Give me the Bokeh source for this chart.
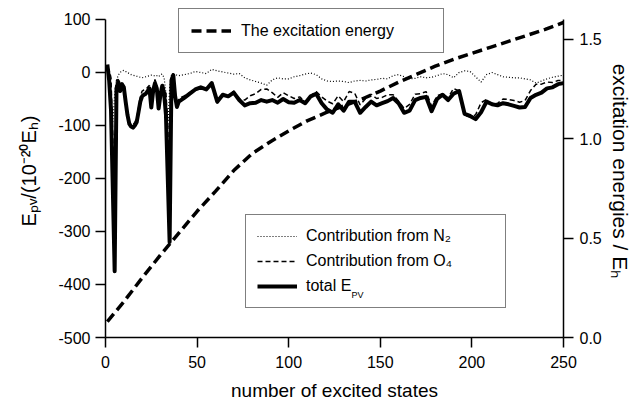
from bokeh.plotting import figure
from bokeh.models import Range1d, LinearAxis, FixedTicker, Legend, LegendItem, Label
from bokeh.embed import file_html
from bokeh.resources import INLINE

# ---------------- data ----------------
states = list(range(1, 40)) + list(range(40, 251, 3))

total_epv = [15, -15, -70, -220, -375, -30, -18, -35, -22, -28,
             -55, -80, -97, -102, -104, -100, -94, -75, -55, -45,
             -42, -40, -35, -30, -66, -35, -20, -30, -68, -42,
             -25, -40, -80, -200, -320, -15, -5, -45, -65,
             -55, -48, -40, -32, -28, -32, -20, -55, -42, -45,
             -38, -52, -62, -58, -57, -52, -55, -52, -57, -50,
             -56, -57, -52, -58, -45, -40, -58, -70, -76, -60,
             -72, -55, -55, -76, -65, -55, -62, -58, -54, -48,
             -58, -76, -72, -52, -48, -46, -73, -50, -42, -52,
             -40, -35, -78, -82, -88, -75, -55, -60, -62, -58,
             -60, -63, -66, -65, -48, -42, -38, -30, -28, -22,
             -20]

contrib_n2 = [5, -20, -60, -95, -40, -15, -5, 0, 3, 4,
              2, 0, -2, -4, -5, -6, -7, -8, -9, -10,
              -9, -8, -7, -6, -5, -5, -7, -6, -8, -4,
              -3, -10, -40, -105, -30, -5, -4, -3, -5,
              -6, -4, -2, 2, 0, -2, 6, 3, 1, -1,
              -3, -2, -10, -14, -17, -20, -24, -14, -10, -12,
              -12, -8, -6, -3, -1, -4, -12, -16, -17, -16,
              -17, -19, -16, -15, -16, -14, -13, -11, -12, -6,
              -4, -8, -12, -11, -8, -10, -9, -6, -2, -4,
              -10, 0, 3, 2, -8, -18, -4, 0, -4, -8,
              -9, -10, -10, -12, -14, -20, -16, -12, -9, -7,
              -5]

contrib_o4 = [10, 5, -10, -125, -335, -15, -13, -35, -25, -32,
              -57, -80, -95, -98, -99, -94, -87, -67, -46, -35,
              -33, -32, -28, -24, -61, -30, -13, -24, -60, -38,
              -22, -30, -40, -95, -290, -10, -1, -42, -60,
              -49, -44, -38, -34, -28, -30, -26, -58, -43, -44,
              -35, -50, -52, -44, -40, -32, -31, -38, -47, -38,
              -44, -49, -46, -55, -44, -36, -46, -54, -59, -44,
              -55, -36, -39, -61, -49, -41, -49, -47, -42, -42,
              -54, -68, -60, -41, -40, -36, -64, -44, -40, -48,
              -30, -35, -81, -84, -80, -57, -51, -60, -58, -50,
              -51, -53, -56, -53, -34, -22, -22, -18, -19, -15,
              -15]

exc_states = [1, 10, 20, 30, 40, 50, 60, 70, 80, 90, 100, 110, 120, 130,
              140, 150, 160, 170, 180, 190, 200, 210, 220, 230, 240, 250]
exc_energy = [0.08, 0.18, 0.30, 0.415, 0.525, 0.635, 0.735, 0.84, 0.925, 0.985,
              1.04, 1.09, 1.13, 1.165, 1.20, 1.24, 1.285, 1.325, 1.365, 1.40,
              1.43, 1.46, 1.49, 1.52, 1.55, 1.585]

x_ticks = [0, 50, 100, 150, 200, 250]
x_tick_labels = ["0", "50", "100", "150", "200", "250"]
y_ticks = [-500, -400, -300, -200, -100, 0, 100]
y_tick_labels = ["-500", "-400", "-300", "-200", "-100", "0", "100"]
r_ticks = [0, 0.5, 1.0, 1.5]
r_tick_labels = ["0.0", "0.5", "1.0", "1.5"]

x_title = "number of excited states"
y_title = "E\u209a\u1d65/(10\u207b\u00b2\u2070E\u2095)"
r_title = "excitation energies / E\u2095"
legend_labels = ["The excitation energy", "Contribution from N\u2082",
                 "Contribution from O\u2084", "total E"]
legend_sub = "PV"

FONT = "Liberation Sans"

# ---------------- figure ----------------
# head-room above 100 / 1.6 so that the upper legend box is not clipped
p = figure(width=635, height=404, x_range=Range1d(0, 250), y_range=Range1d(-500, 128.3),
           output_backend="svg", toolbar_location=None,
           min_border_left=105, min_border_right=72, min_border_top=4, min_border_bottom=67)
p.xgrid.visible = False
p.ygrid.visible = False
p.outline_line_color = None
p.background_fill_color = "white"
p.border_fill_color = "white"
p.extra_y_ranges = {"exc": Range1d(0, 1.6755)}

right_axis = LinearAxis(y_range_name="exc")
p.add_layout(right_axis, "right")

p.xaxis.ticker = FixedTicker(ticks=x_ticks)
p.xaxis.major_label_overrides = dict(zip(x_ticks, x_tick_labels))
p.yaxis.ticker = FixedTicker(ticks=y_ticks)
p.yaxis.major_label_overrides = dict(zip(y_ticks, y_tick_labels))
p.yaxis.bounds = (y_ticks[0], y_ticks[-1])
right_axis.ticker = FixedTicker(ticks=r_ticks)
right_axis.major_label_overrides = dict(zip(r_ticks, r_tick_labels))
right_axis.bounds = (0, 1.6)

p.xaxis.axis_label = x_title
p.yaxis.axis_label = y_title
right_axis.axis_label = r_title

for ax, standoff, title_size, title_standoff in ((p.xaxis[0], 8, "19px", 9),
                                                 (p.yaxis[0], 5, "20px", 15),
                                                 (right_axis, 6, "21px", 4)):
    ax.axis_line_color = "black"
    ax.axis_line_width = 1.5
    ax.major_tick_line_color = "black"
    ax.major_tick_line_width = 1.5
    ax.major_tick_out = 10
    ax.major_tick_in = 0
    ax.minor_tick_line_color = None
    ax.major_label_text_font = FONT
    ax.major_label_text_font_size = "16px"
    ax.major_label_text_color = "black"
    ax.major_label_standoff = standoff
    ax.axis_label_text_font = FONT
    ax.axis_label_text_font_size = title_size
    ax.axis_label_text_font_style = "normal"
    ax.axis_label_text_color = "black"
    ax.axis_label_standoff = title_standoff

r_n2 = p.line(states, contrib_n2, line_color="black", line_width=1.2, line_dash="1 2")
r_o4 = p.line(states, contrib_o4, line_color="black", line_width=1.5, line_dash="5 3")
r_tot = p.line(states, total_epv, line_color="black", line_width=4, line_join="round")
r_exc = p.line(exc_states, exc_energy, y_range_name="exc", line_color="black",
               line_width=3.5, line_dash="10 5")

common = dict(margin=0, border_line_color="black", border_line_width=1.2,
              label_text_font=FONT, label_text_font_size="16px", label_text_color="black")

leg1 = Legend(items=[LegendItem(label=legend_labels[0], renderers=[r_exc])],
              location=(73, 284), padding=12, glyph_width=40, glyph_height=19,
              label_height=19, label_width=190, label_standoff=10, spacing=0,
              background_fill_color="white", background_fill_alpha=1.0, **common)
leg2 = Legend(items=[LegendItem(label=legend_labels[1], renderers=[r_n2]),
                     LegendItem(label=legend_labels[2], renderers=[r_o4]),
                     LegendItem(label=legend_labels[3], renderers=[r_tot])],
              location=(140, 29), padding=11, glyph_width=40, glyph_height=20,
              label_height=20, label_width=188, label_standoff=9, spacing=5,
              background_fill_alpha=0.0, **common)
p.add_layout(leg1)
p.add_layout(leg2)

# small "PV" subscript after "total E" in the lower legend
p.add_layout(Label(x=246, y=43, x_units="screen", y_units="screen", text=legend_sub,
                   text_font=FONT, text_font_size="9px", text_color="black",
                   text_baseline="alphabetic", level="overlay"))

open("out.html", "w").write(file_html(p, INLINE))
